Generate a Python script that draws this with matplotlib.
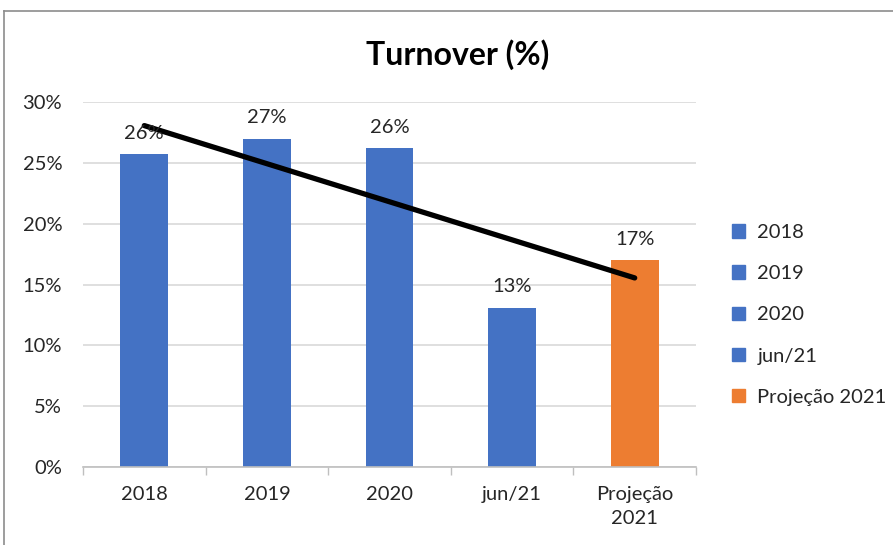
import matplotlib
matplotlib.use("Agg")
import matplotlib.pyplot as plt
import matplotlib.patches as mpatches
from matplotlib.lines import Line2D
import numpy as np

categories = ["2018", "2019", "2020", "jun/21", "Projeção\n2021"]
legend_labels = ["2018", "2019", "2020", "jun/21", "Projeção 2021"]
values = [25.7, 27.0, 26.2, 13.1, 17.0]
colors = ["#4472C4", "#4472C4", "#4472C4", "#4472C4", "#ED7D31"]
y_ticks = [0, 5, 10, 15, 20, 25, 30]

plt.rcParams['font.family'] = ['Lato', 'DejaVu Sans']
text_color = "#262626"
fs = 14.5

W, H = 893, 545
fig = plt.figure(figsize=(W / 100, H / 100), dpi=100)

# outer chart frame (top and left edges)
frame_kw = dict(transform=fig.transFigure, color="#8c8c8c", linewidth=1.2)
fig.add_artist(Line2D([4 / W, 1.0], [1 - 11 / H, 1 - 11 / H], **frame_kw))
fig.add_artist(Line2D([4 / W, 4 / W], [0.0, 1 - 11 / H], **frame_kw))

ax = fig.add_axes([83 / W, 1 - 467 / H, (696 - 83) / W, (467 - 102) / H])
x = np.arange(len(values))
ax.bar(x, values, width=0.39, color=colors, zorder=3)

# linear trend line over the bars
coef = np.polyfit(x, values, 1)
trend = np.polyval(coef, x)
ax.plot([x[0], x[-1]], [trend[0], trend[-1]], color="black", lw=3.8,
        solid_capstyle="round", zorder=5)

for xi, v in zip(x, values):
    ax.annotate(f"{v:.0f}%", (xi, v), xytext=(0, 9), textcoords="offset points",
                ha="center", va="bottom", fontsize=fs, color=text_color, zorder=6)

ax.set_xlim(-0.5, len(values) - 0.5)
ax.set_ylim(0, 30)
ax.set_yticks(y_ticks)
ax.set_yticklabels([f"{t}%" for t in y_ticks], fontsize=fs, color=text_color)
ax.tick_params(axis="y", length=0, pad=15)
ax.set_xticks(x)
ax.set_xticklabels(categories, fontsize=fs, color=text_color, linespacing=1.45)
ax.tick_params(axis="x", which="major", length=0, pad=14)
ax.set_xticks(np.arange(-0.5, len(values), 1.0), minor=True)
ax.tick_params(axis="x", which="minor", length=6, width=1, color="#bfbfbf", direction="out")

ax.grid(axis="y", color="#d9d9d9", lw=1.2, zorder=0)
for s in ["left", "right", "top"]:
    ax.spines[s].set_visible(False)
ax.spines["bottom"].set_color("#bfbfbf")
ax.spines["bottom"].set_linewidth(1.2)
ax.spines["bottom"].set_zorder(4)

fig.text(458 / W, 1 - 55 / H, "Turnover (%)", ha="center", va="center",
         fontsize=23, fontweight="bold", color="black")

handles = [mpatches.Patch(color=c) for c in colors]
fig.legend(handles, legend_labels, loc="upper left",
           bbox_to_anchor=(714 / W, 1 - 206 / H), frameon=False,
           fontsize=fs, labelcolor=text_color, handlelength=0.65,
           handleheight=0.65, handletextpad=0.6, labelspacing=1.2)

fig.savefig("out.png", dpi=100, facecolor="white")
